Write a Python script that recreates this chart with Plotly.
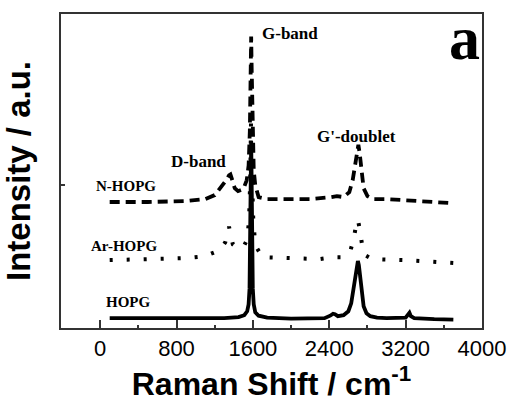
import plotly.graph_objects as go

# Raman spectra (offset for display), wavenumber in cm-1, intensity in a.u.
hopg_x = [100, 500, 1000, 1300, 1450, 1510, 1540, 1555, 1565, 1572, 1577, 1582, 1587, 1592, 1599,
          1609, 1625, 1660, 1750, 2000, 2350, 2410, 2440, 2460, 2490, 2550, 2600, 2630, 2655, 2675,
          2690, 2700, 2710, 2722, 2740, 2760, 2790, 2830, 2900, 3000, 3200, 3225, 3240, 3255, 3290,
          3500, 3700]
hopg_y = [10, 10, 9.5, 10, 11, 13, 17, 24, 40, 80, 150, 190, 150, 80, 40,
          24, 16, 12.5, 10.5, 9.5, 10, 12.5, 14.5, 14, 12, 13, 17, 25, 40, 56,
          65, 68, 64, 52, 34, 22, 15, 12, 10.5, 10, 10.5, 13, 15.5, 12, 10,
          9, 8.5]

ar_x = [100, 600, 900, 1100, 1250, 1310, 1335, 1350, 1365, 1390, 1440, 1500, 1540, 1560, 1572,
        1582, 1592, 1604, 1625, 1700, 2000, 2300, 2450, 2550, 2620, 2655, 2680, 2700, 2720, 2745,
        2775, 2850, 3200, 3700]
ar_y = [69, 70, 71, 73, 79, 87, 97, 103, 96, 85, 81, 82, 90, 110, 150,
        220, 150, 110, 84, 72, 71, 70, 72, 72, 78, 90, 104, 110, 100, 84,
        74, 70, 69, 66]

n_x = [100, 500, 900, 1100, 1200, 1270, 1320, 1350, 1365, 1385, 1410, 1445, 1500, 1535, 1555,
       1568, 1576, 1582, 1588, 1596, 1609, 1625, 1660, 1750, 2200, 2420, 2480, 2550, 2610, 2645,
       2675, 2695, 2705, 2718, 2735, 2760, 2800, 2860, 3000, 3200, 3650]
n_y = [128, 128, 129, 131, 135, 143, 150, 155, 156, 150, 142, 139, 141, 150, 165,
       200, 260, 296, 260, 200, 160, 145, 133, 131, 131, 133, 134, 133, 138, 150,
       168, 182, 186, 178, 160, 142, 134, 131, 131, 130, 127]

x_ticks = [0, 800, 1600, 2400, 3200, 4000]

labels = [
    ("G-band", 1673, 299, 17),
    ("G'-doublet", 2250, 195, 17),
    ("D-band", 725, 169, 17),
    ("N-HOPG", -69, 144, 15),
    ("Ar-HOPG", -121, 83, 15),
    ("HOPG", 44, 26, 15),
]

fig = go.Figure()
fig.add_trace(go.Scatter(x=n_x, y=n_y, mode="lines", name="N-HOPG",
                         line=dict(color="black", width=3.8, dash="10px,6px")))
fig.add_trace(go.Scatter(x=ar_x, y=ar_y, mode="lines", name="Ar-HOPG",
                         line=dict(color="black", width=4, dash="3px,14px")))
fig.add_trace(go.Scatter(x=hopg_x, y=hopg_y, mode="lines", name="HOPG",
                         line=dict(color="black", width=3.8)))

for text, x, y, size in labels:
    fig.add_annotation(x=x, y=y, text=f"<b>{text}</b>", showarrow=False, xanchor="left", yanchor="middle",
                       font=dict(family="Liberation Serif", size=size, color="black"))

fig.add_annotation(x=0.958, y=0.925, xref="paper", yref="paper", text="<b>a</b>", showarrow=False,
                   xanchor="center", yanchor="middle",
                   font=dict(family="Liberation Serif", size=62, color="black"))

fig.update_layout(
    width=518, height=404,
    margin=dict(l=61, r=30, t=12, b=73),
    paper_bgcolor="white", plot_bgcolor="white",
    showlegend=False,
    xaxis=dict(range=[-410, 4000], tickvals=x_ticks, ticks="inside", ticklen=8, tickwidth=1.5,
               tickcolor="#333", showline=True, linecolor="#333", linewidth=2, mirror=True,
               showgrid=False, zeroline=False,
               tickfont=dict(family="Liberation Sans", size=22, color="black"),
               minor=dict(dtick=400, tick0=0, ticks="inside", ticklen=3, tickwidth=1.5, tickcolor="#333"),
               title=dict(text="<b>Raman Shift / cm<sup>-1</sup></b>", standoff=8,
                          font=dict(family="Liberation Sans", size=32, color="black"))),
    yaxis=dict(range=[0, 319], tickvals=[145], showticklabels=False, ticks="inside", ticklen=4, tickwidth=1.5,
               tickcolor="#333", showline=True, linecolor="#333", linewidth=2, mirror=True,
               showgrid=False, zeroline=False,
               title=dict(text="<b>Intensity / a.u.</b>", standoff=20,
                          font=dict(family="Liberation Sans", size=33, color="black"))),
)

fig.write_html("out.html")
